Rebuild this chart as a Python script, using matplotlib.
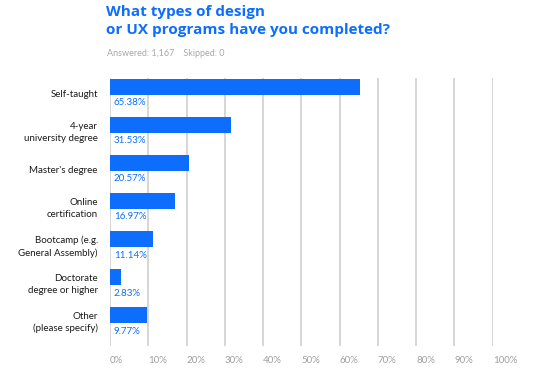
import numpy as np
import matplotlib
matplotlib.use('Agg')
import matplotlib.pyplot as plt

## Data
categories=['Self-taught','4-year\nuniversity degree',"Master's degree",'Online\ncertification',
            'Bootcamp (e.g.\nGeneral Assembly)','Doctorate\ndegree or higher','Other\n(please specify)']
values=[65.38,31.53,20.57,16.97,11.14,2.83,9.77]
ticks=[0,10,20,30,40,50,60,70,80,90,100]
tickLabels=['%d%%'%t for t in ticks]

blue='#0d6efd'
plt.rcParams['font.family']=['Lato','DejaVu Sans']

fig=plt.figure(figsize=(5.35,3.76),dpi=100)
ax=fig.add_axes([110/535,1-346/376,(492.7-110)/535,(346-78)/376])

y=np.arange(len(categories))
ax.barh(y,values,height=0.42,color=blue,zorder=3)
for i,v in enumerate(values):
    ax.text(1,y[i]+0.42,'%.2f%%'%v,color=blue,fontsize=7,va='center',ha='left')
    ax.text(-3.2,y[i]+0.2,categories[i],color='#1a1a1a',fontsize=7,va='center',ha='right',
            linespacing=1.35)

for t in ticks:
    ax.axvline(t,color='#d6d6d6',lw=1.4,zorder=1)

ax.set_xlim(0,100)
ax.set_ylim(6.81,-0.23)
ax.set_xticks(ticks)
ax.set_xticklabels(tickLabels,ha='left',color='#a0a0a0',fontsize=7)
ax.tick_params(axis='x',length=0,pad=7)
ax.set_yticks([])
for s in ax.spines.values():
    s.set_visible(False)

titleFont=['Open Sans','DejaVu Sans']
fig.text(106/535,1-12/376,'What types of design',color=blue,fontsize=11,fontweight='bold',
         family=titleFont,va='center',ha='left')
fig.text(106/535,1-30/376,'or UX programs have you completed?',color=blue,fontsize=11,fontweight='bold',
         family=titleFont,va='center',ha='left')
fig.text(107/535,1-54/376,'Answered: 1,167    Skipped: 0',color='#a8a8a8',fontsize=6.5,va='center',ha='left')

fig.savefig('out.png',dpi=100)
